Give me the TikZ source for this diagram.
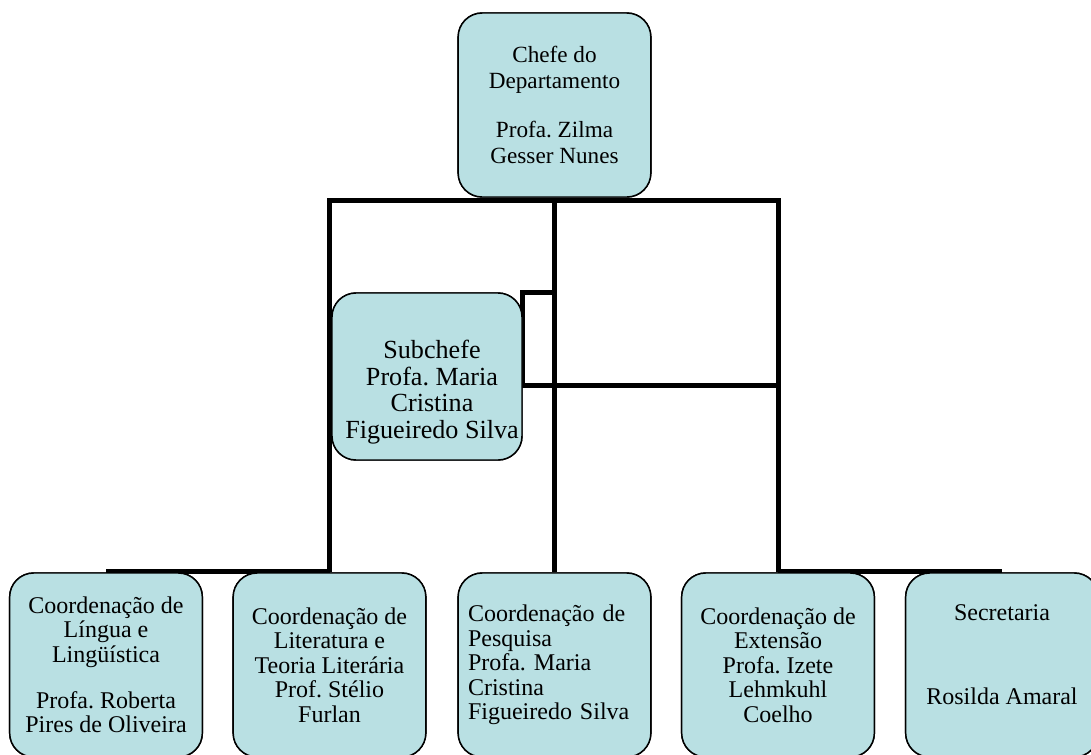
\documentclass[tikz,border=0pt]{standalone}
\usepackage{fontspec}
\setmainfont{Liberation Serif}
\frenchspacing
\definecolor{boxfill}{RGB}{185,224,227}
\begin{document}
\begin{tikzpicture}[x=0.75pt,y=-0.75pt,
  box/.style={draw=black, line width=1.1pt, fill=boxfill, rounded corners=18pt,
    align=center, inner sep=0pt, minimum width=144.5pt,
    font=\fontsize{18}{18.3}\selectfont},
  low/.style={box, minimum height=138pt},
  txt/.style={align=center, inner sep=0pt},
  conn/.style={line width=3.75pt, line join=miter}]
\useasboundingbox (0,0) rectangle (1091,754);
\clip (0,0) rectangle (1091,754);
% helper coordinates for connector levels
\coordinate (tb) at (0,200);
\coordinate (lb) at (0,571);
\coordinate (mb) at (0,385);
% box outlines (named), used as anchors for the connectors
\path
  node[box, minimum height=138pt] (chefe) at (554.5,105) {}
  node[box, minimum width=142.5pt, minimum height=125.25pt] (sub) at (427,376.5) {}
  node[low] (c1) at (106,665) {}
  node[low] (c2) at (329.5,665) {}
  node[low] (c3) at (554.5,665) {}
  node[low] (c4) at (778,665) {}
  node[low] (c5) at (1002,665) {};
% connectors
\draw[conn] (c2.north) -- (c2.north |- tb) -- (c4.north |- tb) -- (c4.north);
\draw[conn] (c3.north) -- (c3.north |- chefe.south);
\draw[conn] (c1.north |- lb) -- (c2.north |- lb);
\draw[conn] (c4.north |- lb) -- (c5.north |- lb);
\draw[conn] (c3.north |- sub.north) -- (sub.north east) -- (sub.east |- mb) -- (c4.north |- mb);
% boxes on top of the connectors
\node[box, minimum height=138pt, font=\fontsize{17.4}{19.5}\selectfont] (chefebox) at (chefe.center)
    {Chefe do\\Departamento\\[17pt]Profa. Zilma\\Gesser Nunes};
\node[box, minimum width=142.5pt, minimum height=125.25pt] (subbox) at (sub.center) {};
\node[txt, font=\fontsize{19.6}{20}\selectfont] (subtext) at (432,392)
    {Subchefe\\Profa. Maria\\Cristina\\Figueiredo Silva};
\node[low] (c1box) at (c1.center)
    {Coordenação de\\Língua e\\Lingüística\\[16.3pt]Profa. Roberta\\Pires de Oliveira};
\node[low] (c2box) at (c2.center)
    {Coordenação de\\Literatura e\\Teoria Literária\\Prof. Stélio\\Furlan};
\node[low, align=left, text width=129.75pt, inner xsep=7.4pt] (c3box) at (c3.center)
    {Coordenação de\\Pesquisa\\Profa. Maria\\Cristina\\Figueiredo Silva};
\node[low] (c4box) at (c4.center)
    {Coordenação de\\Extensão\\Profa. Izete\\Lehmkuhl\\Coelho};
\node[low] (c5box) at (c5.center) {};
\node[txt, font=\fontsize{18}{18.3}\selectfont] (c5text) at (1002,655)
    {Secretaria\\[44.8pt]Rosilda Amaral};
\end{tikzpicture}
\end{document}
